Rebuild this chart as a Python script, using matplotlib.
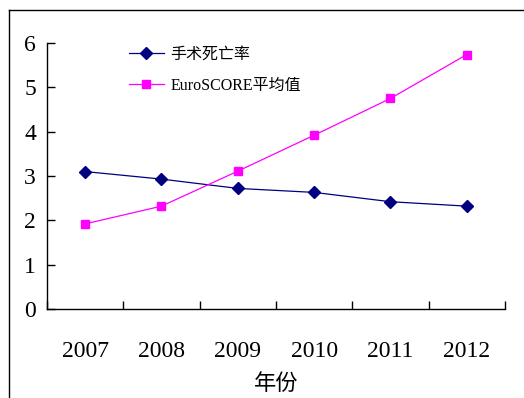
import matplotlib
import matplotlib.pyplot as plt
from matplotlib.lines import Line2D

matplotlib.use('Agg')

# ---------------------- DATA

years = ['2007', '2008', '2009', '2010', '2011', '2012']
mortality = [3.1, 2.93, 2.72, 2.63, 2.42, 2.32]          # 手术死亡率
euroscore = [1.92, 2.32, 3.11, 3.92, 4.75, 5.74]         # EuroSCORE平均值
y_ticks = [0, 1, 2, 3, 4, 5, 6]

serif = ['Liberation Serif', 'Noto Sans CJK SC']
plt.rcParams['font.family'] = serif

# ---------------------- FIGURE

fig = plt.figure(figsize=(5.24, 3.98), dpi=100)
ax = fig.add_axes([47 / 524, 89 / 398, 458 / 524, 266 / 398])

x = list(range(len(years)))
ax.plot(x, mortality, color='#000080', marker='D', markersize=6,
        linewidth=0.9, label='手术死亡率')
ax.plot(x, euroscore, color='#FF00FF', marker='s', markersize=6,
        linewidth=0.9, label='EuroSCORE平均值')

ax.set_xlim(-0.5, len(years) - 0.5)
ax.set_ylim(0, 6)

# category labels in the middle, tick marks on the boundaries
ax.set_xticks(x)
ax.set_xticklabels(years, fontsize=17)
ax.set_xticks([i - 0.5 for i in range(len(years) + 1)], minor=True)
ax.tick_params(axis='x', which='major', length=0, pad=23)
ax.tick_params(axis='x', which='minor', direction='in', length=6, width=1)

ax.set_yticks(y_ticks)
ax.set_yticklabels([str(v) for v in y_ticks], fontsize=17)
ax.tick_params(axis='y', direction='in', length=6, width=1, pad=8)

ax.spines['top'].set_visible(False)
ax.spines['right'].set_visible(False)
for s in ('left', 'bottom'):
    ax.spines[s].set_linewidth(1)

ax.set_xlabel('年份', fontsize=16, labelpad=9)

ax.legend(loc='upper left', bbox_to_anchor=(0.147, 1.04), frameon=False,
          fontsize=11.5, handlelength=2.2, labelspacing=0.95, handletextpad=0.4)

# outer frame around the chart
fig.add_artist(Line2D([9 / 524, 9 / 524], [0, 1 - 10 / 398],
                      transform=fig.transFigure, color='black', linewidth=1))
fig.add_artist(Line2D([9 / 524, 1], [1 - 10 / 398, 1 - 10 / 398],
                      transform=fig.transFigure, color='black', linewidth=1))

fig.savefig('out.png', dpi=100)
plt.close()
